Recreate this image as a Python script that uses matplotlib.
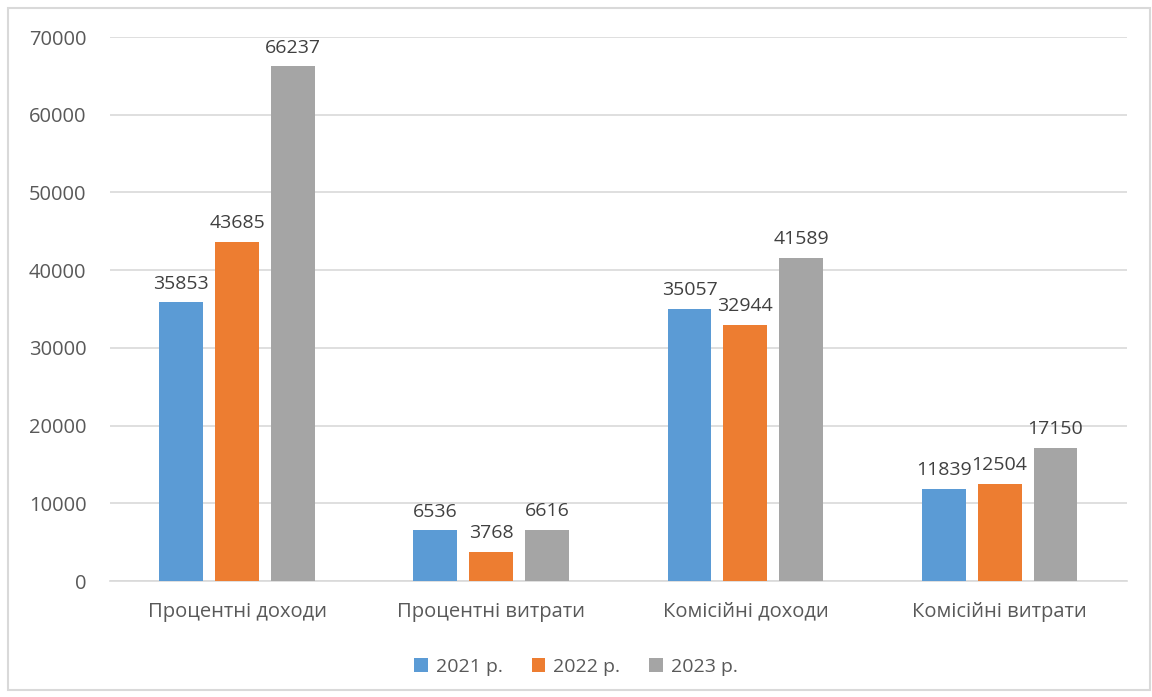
import numpy as np
import matplotlib.pyplot as plt
from matplotlib.patches import Rectangle

categories = ["Процентні доходи", "Процентні витрати", "Комісійні доходи", "Комісійні витрати"]
series_names = ["2021 р.", "2022 р.", "2023 р."]
values_2021 = [35853, 6536, 35057, 11839]
values_2022 = [43685, 3768, 32944, 12504]
values_2023 = [66237, 6616, 41589, 17150]
colors = ["#5B9BD5", "#ED7D31", "#A5A5A5"]

plt.rcParams['font.family'] = ['Open Sans', 'DejaVu Sans']
text_color = "#595959"

fig = plt.figure(figsize=(11.52, 6.97), dpi=100)
ax = fig.add_axes([0.0955, 0.1664, 0.8825, 0.7805])

# light frame around the whole chart
fig.patches.append(Rectangle((0.007, 0.01), 0.991, 0.979, transform=fig.transFigure,
                             fill=False, edgecolor="#D9D9D9", linewidth=1.5))

x = np.arange(len(categories))
width = 0.173
step = 0.22
for i, (name, vals) in enumerate(zip(series_names, [values_2021, values_2022, values_2023])):
    bars = ax.bar(x + (i - 1) * step, vals, width, color=colors[i], label=name, zorder=3)
    for b, v in zip(bars, vals):
        ax.annotate(str(v), (b.get_x() + b.get_width() / 2, v), xytext=(0, 7),
                    textcoords="offset points", ha="center", va="bottom",
                    fontsize=14, color="#404040", zorder=4)

ax.set_xlim(-0.5, len(categories) - 0.5)
ax.set_ylim(0, 70000)
ax.set_yticks(np.arange(0, 70001, 10000))
ax.set_xticks(x)
ax.set_xticklabels(categories)
ax.yaxis.grid(True, color="#D9D9D9", linewidth=1.2, zorder=0)
ax.tick_params(axis="both", length=0, labelsize=14.5, colors=text_color)
ax.tick_params(axis="y", pad=17)
ax.tick_params(axis="x", pad=15)
for s in ["top", "right", "left"]:
    ax.spines[s].set_visible(False)
ax.spines["bottom"].set_color("#D9D9D9")
ax.spines["bottom"].set_linewidth(1.2)

fig.legend(loc="lower center", bbox_to_anchor=(0.5, 0.005), ncol=3, frameon=False,
           fontsize=14, labelcolor=text_color, handlelength=0.7, handleheight=0.7,
           handletextpad=0.4, columnspacing=1.5)

fig.savefig("out.png", dpi=100)
